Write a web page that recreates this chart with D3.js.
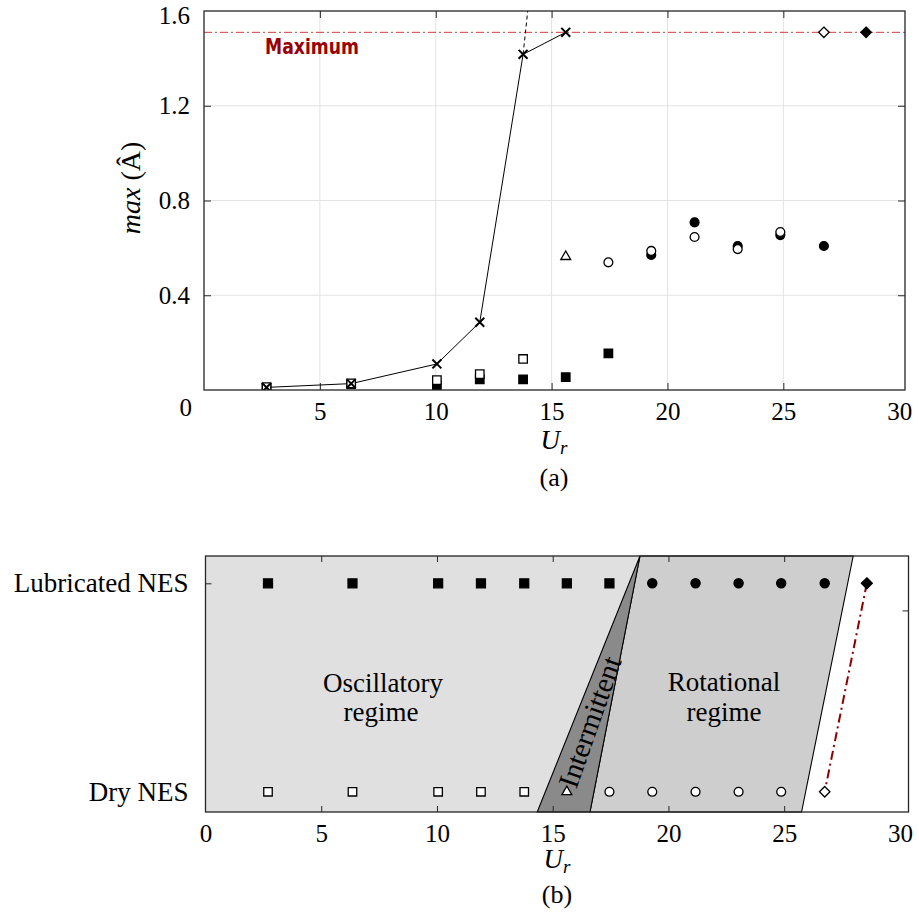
<!DOCTYPE html>
<html>
<head>
<meta charset="utf-8">
<script src="https://cdn.jsdelivr.net/npm/d3@7.9.0/dist/d3.min.js"></script>
<style>
  body { margin: 0; background: #fff; }
  svg text { font-family: "Liberation Serif", "Times New Roman", serif; fill: #000; }
</style>
</head>
<body>
<svg id="chart" width="919" height="918"></svg>
<script>
// reduced velocities where the tests were run
const ur = [2.7, 6.35, 10.05, 11.9, 13.77, 15.61, 17.45, 19.3, 21.17, 23.03, 24.87, 26.75, 28.57];

// (a) max amplitude
const noNesUr = ur.slice(0, 6);
const noNesAmp = [0.011, 0.027, 0.11, 0.286, 1.417, 1.51];
const extUr = [13.77, 13.97];
const extAmp = [1.417, 1.6];
const dryOscUr = ur.slice(0, 5);
const dryOscAmp = [0.012, 0.028, 0.042, 0.067, 0.131];
const dryIntUr = [ur[5]];
const dryIntAmp = [0.563];
const dryRotUr = ur.slice(6, 11);
const dryRotAmp = [0.539, 0.587, 0.646, 0.595, 0.667];
const lubOscUr = ur.slice(0, 7);
const lubOscAmp = [0.009, 0.025, 0.018, 0.045, 0.045, 0.054, 0.155];
const lubRotUr = ur.slice(7, 12);
const lubRotAmp = [0.57, 0.708, 0.608, 0.654, 0.608];
const dryMaxUr = ur[11];
const lubMaxUr = ur[12];
const maxAmp = 1.51;
const xTicksA = [5, 10, 15, 20, 25, 30];
const yTicksA = [0, 0.4, 0.8, 1.2, 1.6];

// (b) regime map
const rows = ['Dry NES', 'Lubricated NES'];
const oscEdge = [14.33, 18.77];   // U_r at bottom, top
const intEdge = [16.61, 18.77];
const rotEdge = [25.75, 27.98];
const xTicksB = [0, 5, 10, 15, 20, 25, 30];
const rightTicksB = [0, 0.87];

const svg = d3.select('#chart');
const axisColor = '#262626';

// marker shapes
const symX = { draw(ctx, size) { const r = Math.sqrt(size) / 2; ctx.moveTo(-r, -r); ctx.lineTo(r, r); ctx.moveTo(r, -r); ctx.lineTo(-r, r); } };
const symDiamond = { draw(ctx, size) { const r = Math.sqrt(size) / 2; ctx.moveTo(0, -r); ctx.lineTo(r, 0); ctx.lineTo(0, r); ctx.lineTo(-r, 0); ctx.closePath(); } };

function markers(g, xs, ys, x, y, type, size, filled, sw = 1.3) {
  g.append('g').selectAll('path')
    .data(xs.map((d, i) => [d, ys[i]]))
    .join('path')
    .attr('transform', d => `translate(${x(d[0])},${y(d[1])})`)
    .attr('d', d3.symbol().type(type).size(size))
    .attr('fill', filled ? '#000' : '#fff')
    .attr('stroke', '#000')
    .attr('stroke-width', sw);
}

// ---------- (a) ----------
const xA = d3.scaleLinear().domain([0, 30.25]).range([204, 905]);
const yA = d3.scaleLinear().domain([0, 1.6]).range([390, 11]);
const gA = svg.append('g');

svg.append('clipPath').attr('id', 'clipA')
  .append('rect').attr('x', 204).attr('y', 11).attr('width', 701).attr('height', 379);

// grid
gA.append('g').selectAll('line').data(xTicksA.filter(t => t < 30)).join('line')
  .attr('x1', d => xA(d)).attr('x2', d => xA(d)).attr('y1', 11).attr('y2', 390)
  .attr('stroke', '#e3e3e3');
gA.append('g').selectAll('line').data(yTicksA.filter(t => t > 0 && t < 1.6)).join('line')
  .attr('y1', d => yA(d)).attr('y2', d => yA(d)).attr('x1', 204).attr('x2', 905)
  .attr('stroke', '#e3e3e3');

// axes
const axBottomA = gA.append('g').attr('transform', 'translate(0,390)')
  .call(d3.axisBottom(xA).tickValues(xTicksA).tickSizeInner(-7).tickSizeOuter(0).tickPadding(12));
const axLeftA = gA.append('g').attr('transform', 'translate(204,0)')
  .call(d3.axisLeft(yA).tickValues(yTicksA).tickSizeInner(-7).tickSizeOuter(0).tickPadding(14).tickFormat(d3.format('')));
gA.append('g').attr('transform', 'translate(0,11)')
  .call(d3.axisTop(xA).tickValues(xTicksA.filter(t => t < 30)).tickSizeInner(-7).tickSizeOuter(0).tickFormat(''));
gA.append('g').attr('transform', 'translate(905,0)')
  .call(d3.axisRight(yA).tickValues(yTicksA.slice(1, 4)).tickSizeInner(-7).tickSizeOuter(0).tickFormat(''));
gA.selectAll('.domain').remove();
gA.selectAll('.tick line').attr('stroke', axisColor);
gA.selectAll('.tick text').attr('font-family', '"Liberation Serif", serif').attr('font-size', 25).attr('fill', '#262626');
axBottomA.selectAll('.tick').filter(d => d === 30).select('line').remove();
axLeftA.selectAll('.tick').filter(d => d === 0).select('text').attr('dy', '1.02em').attr('x', -12);
axLeftA.selectAll('.tick').filter(d => d === 1.6).select('text').attr('dy', '0.48em');
axLeftA.selectAll('.tick').filter(d => d === 0 || d === 1.6).select('line').remove();

const plotA = gA.append('g').attr('clip-path', 'url(#clipA)');

// maximum amplitude
plotA.append('line')
  .attr('x1', xA(0)).attr('x2', xA(30.25)).attr('y1', yA(maxAmp)).attr('y2', yA(maxAmp))
  .attr('stroke', '#cc3a3a').attr('stroke-width', 1).attr('stroke-dasharray', '8,3,2,3');

const lineA = d3.line().x(d => xA(d[0])).y(d => yA(d[1]));
plotA.append('path')
  .attr('d', lineA(noNesUr.map((d, i) => [d, noNesAmp[i]])))
  .attr('fill', 'none').attr('stroke', '#000').attr('stroke-width', 1);
plotA.append('path')
  .attr('d', lineA(extUr.map((d, i) => [d, extAmp[i]])))
  .attr('fill', 'none').attr('stroke', '#000').attr('stroke-width', 1).attr('stroke-dasharray', '4,3');

markers(plotA, lubOscUr, lubOscAmp, xA, yA, d3.symbolSquare, 72, true);
markers(plotA, lubRotUr, lubRotAmp, xA, yA, d3.symbolCircle, 62, true);
markers(plotA, dryOscUr, dryOscAmp, xA, yA, d3.symbolSquare, 72, false);
markers(plotA, dryIntUr, dryIntAmp, xA, yA, d3.symbolTriangle, 42, false);
markers(plotA, dryRotUr, dryRotAmp, xA, yA, d3.symbolCircle, 62, false);
markers(plotA, [dryMaxUr], [maxAmp], xA, yA, symDiamond, 110, false);
markers(plotA, [lubMaxUr], [maxAmp], xA, yA, symDiamond, 110, true);
markers(plotA, noNesUr, noNesAmp, xA, yA, symX, 80, false, 2);

// box
gA.append('rect').attr('x', 204).attr('y', 11).attr('width', 701).attr('height', 379)
  .attr('fill', 'none').attr('stroke', axisColor).attr('stroke-width', 1.3);

gA.append('text').attr('x', 265).attr('y', 54)
  .attr('textLength', 94).attr('lengthAdjust', 'spacingAndGlyphs')
  .style('font-family', '"DejaVu Sans", sans-serif').style('font-size', '21px').style('font-weight', 'bold')
  .style('fill', '#990000').text('Maximum');

const ylab = gA.append('text').attr('transform', 'translate(140,188) rotate(-90)')
  .attr('text-anchor', 'middle').attr('font-size', 28);
ylab.append('tspan').attr('font-style', 'italic').text('max');
ylab.append('tspan').text(' (Â)');

const xlabA = gA.append('text').attr('x', 554).attr('y', 449).attr('text-anchor', 'middle').attr('font-size', 27);
xlabA.append('tspan').attr('font-style', 'italic').text('U');
xlabA.append('tspan').attr('font-style', 'italic').attr('font-size', 19).attr('dy', 5).text('r');
gA.append('text').attr('x', 554).attr('y', 486).attr('text-anchor', 'middle').attr('font-size', 26).text('(a)');

// ---------- (b) ----------
const xB = d3.scaleLinear().domain([0, 30.37]).range([205.5, 908.5]);
const yB = d3.scaleLinear().domain([-0.097, 1.131]).range([812, 556]);
const [yLo, yHi] = yB.domain();
const gB = svg.append('g');

const polyB = pts => d3.line().x(d => xB(d[0])).y(d => yB(d[1])).curve(d3.curveLinearClosed)(pts);
gB.append('path')
  .attr('d', polyB([[0, yLo], [0, yHi], [oscEdge[1], yHi], [oscEdge[0], yLo]]))
  .attr('fill', '#e0e0e0');
gB.append('path')
  .attr('d', polyB([[intEdge[0], yLo], [intEdge[1], yHi], [rotEdge[1], yHi], [rotEdge[0], yLo]]))
  .attr('fill', '#cecece').attr('stroke', '#000').attr('stroke-width', 1.1);
gB.append('path')
  .attr('d', polyB([[oscEdge[0], yLo], [oscEdge[1], yHi], [intEdge[0], yLo]]))
  .attr('fill', '#8a8a8a').attr('stroke', '#000').attr('stroke-width', 1.1);

// axes
gB.append('g').attr('transform', 'translate(0,812)')
  .call(d3.axisBottom(xB).tickValues(xTicksB).tickSizeInner(-6).tickSizeOuter(0).tickPadding(12));
gB.append('g').attr('transform', 'translate(0,556)')
  .call(d3.axisTop(xB).tickValues(xTicksB.slice(1, 6)).tickSizeInner(-6).tickSizeOuter(0).tickFormat(''));
gB.append('g').attr('transform', 'translate(205.5,0)')
  .call(d3.axisLeft(yB).tickValues([0, 1]).tickSizeInner(-6).tickSizeOuter(0).tickPadding(17).tickFormat(i => rows[i]));
gB.append('g').attr('transform', 'translate(908.5,0)')
  .call(d3.axisRight(yB).tickValues(rightTicksB).tickSizeInner(-6).tickSizeOuter(0).tickFormat(''));
gB.selectAll('.domain').remove();
gB.selectAll('.tick line').attr('stroke', axisColor);
gB.selectAll('.tick text').attr('font-family', '"Liberation Serif", serif').attr('font-size', 25).attr('fill', '#262626');
gB.selectAll('.tick').filter(d => d === 0 || d === 30).select('line').remove();
gB.selectAll('.tick text').filter(function () { return this.textContent.includes('NES'); })
  .attr('font-size', 27).attr('fill', '#000');

// regime labels
gB.append('text').attr('x', 383).attr('y', 692).attr('text-anchor', 'middle').attr('font-size', 27).text('Oscillatory');
gB.append('text').attr('x', 381).attr('y', 721).attr('text-anchor', 'middle').attr('font-size', 27).text('regime');
gB.append('text').attr('x', 724).attr('y', 691).attr('text-anchor', 'middle').attr('font-size', 27).text('Rotational');
gB.append('text').attr('x', 724).attr('y', 721).attr('text-anchor', 'middle').attr('font-size', 27).text('regime');
gB.append('text').attr('transform', 'translate(590,722) rotate(-70.5)')
  .attr('text-anchor', 'middle').attr('dy', '0.33em').attr('font-size', 29).text('Intermittent');

// max-amplitude link
gB.append('path')
  .attr('d', d3.line().x(d => xB(d[0])).y(d => yB(d[1]))([[lubMaxUr, 1], [dryMaxUr, 0]]))
  .attr('fill', 'none').attr('stroke', '#8b0000').attr('stroke-width', 2).attr('stroke-dasharray', '9,4,2,4');

const ones = a => a.map(() => 1);
const zeros = a => a.map(() => 0);
markers(gB, lubOscUr, ones(lubOscUr), xB, yB, d3.symbolSquare, 80, true);
markers(gB, lubRotUr, ones(lubRotUr), xB, yB, d3.symbolCircle, 66, true);
markers(gB, [lubMaxUr], [1], xB, yB, symDiamond, 120, true);
markers(gB, dryOscUr, zeros(dryOscUr), xB, yB, d3.symbolSquare, 72, false);
markers(gB, dryIntUr, [0], xB, yB, d3.symbolTriangle, 42, false);
markers(gB, dryRotUr, zeros(dryRotUr), xB, yB, d3.symbolCircle, 62, false);
markers(gB, [dryMaxUr], [0], xB, yB, symDiamond, 110, false);

gB.append('rect').attr('x', 205.5).attr('y', 556).attr('width', 703).attr('height', 256)
  .attr('fill', 'none').attr('stroke', axisColor).attr('stroke-width', 1.3);

const xlabB = gB.append('text').attr('x', 557).attr('y', 868).attr('text-anchor', 'middle').attr('font-size', 27);
xlabB.append('tspan').attr('font-style', 'italic').text('U');
xlabB.append('tspan').attr('font-style', 'italic').attr('font-size', 19).attr('dy', 5).text('r');
gB.append('text').attr('x', 557).attr('y', 903).attr('text-anchor', 'middle').attr('font-size', 26).text('(b)');
</script>
</body>
</html>
